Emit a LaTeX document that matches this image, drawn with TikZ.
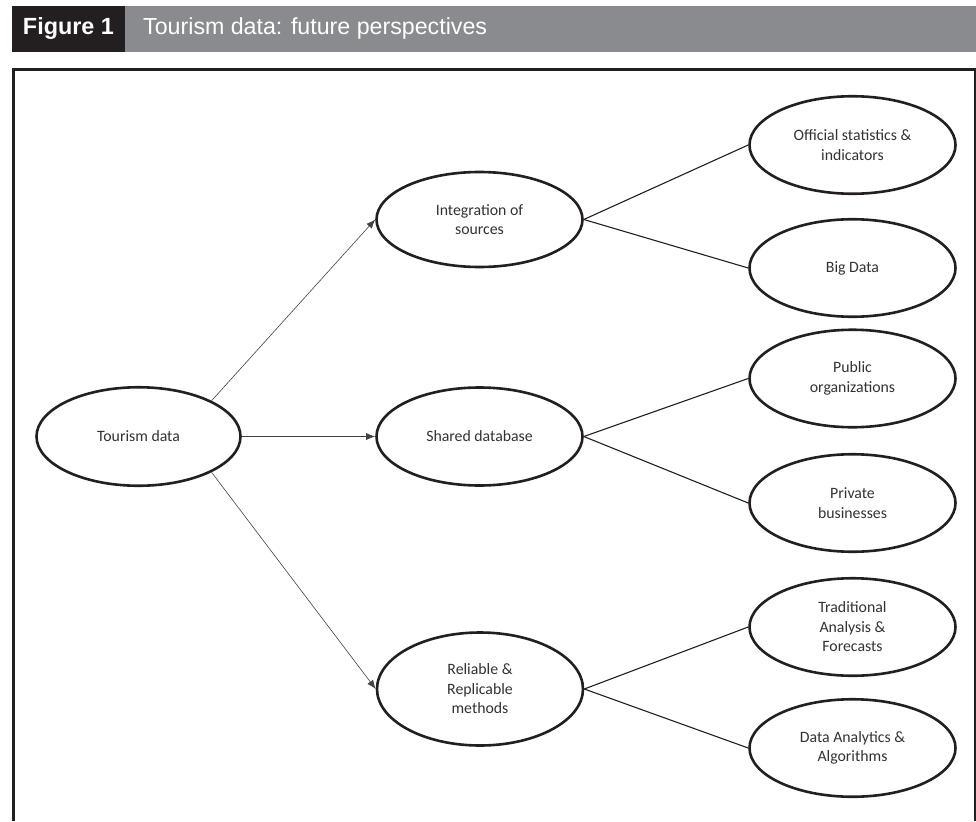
\documentclass[tikz,border=0pt]{standalone}
\usepackage{fontspec}
\setmainfont{Carlito}
\newfontfamily\headfont{Liberation Sans}
\usetikzlibrary{shapes.geometric,arrows.meta}
\definecolor{ink}{HTML}{231F20}
\definecolor{band}{HTML}{8A8B8E}
\begin{document}
\begin{tikzpicture}[x=1pt,y=-1pt,
  bub/.style={ellipse, draw=ink, line width=2.6pt, inner sep=0pt,
    minimum width=206pt, minimum height=98pt, align=center,
    font=\fontsize{15.8pt}{19.5pt}\selectfont, text=ink!92},
  arr/.style={-{Latex[length=9pt,width=7pt]}, line width=0.6pt, draw=ink!85},
  link/.style={line width=1.1pt, draw=ink},
  headtxt/.style={font=\headfont\fontsize{23.2pt}{26pt}\selectfont, text=white, inner sep=0pt}]
\useasboundingbox (0,0) rectangle (976,821);
% header
\fill[ink] (12,6) rectangle (125,52);
\fill[band] (125,6) rectangle (976,52);
\node[headtxt, font=\headfont\bfseries\fontsize{23.4pt}{26pt}\selectfont] (fig) at (68.5,29) {Figure 1};
\node[headtxt, anchor=west] (title) at (143,29) {Tourism data: future perspectives};
% frame
\draw[ink, line width=3.4pt] (13.7,67.6) -- (13.7,821);
\draw[ink, line width=3pt] (12,69.2) -- (976,69.2);
\draw[ink, line width=1.5pt] (974.9,69.2) -- (974.9,821);
% nodes
\node[bub, minimum width=204pt, minimum height=98.5pt] (td) at (138.5,436.5) {Tourism data};
\node[bub, minimum height=95pt] (int) at (479.5,219.5) {Integration of\\sources};
\node[bub] (sh) at (479.5,436.5) {Shared database};
\node[bub, minimum height=113pt] (rel) at (480,689) {Reliable \&\\Replicable\\methods};
\node[bub, minimum height=97.5pt] (off) at (852.5,145) {Official statistics \&\\indicators};
\node[bub, minimum height=97.5pt] (big) at (852.5,268) {Big Data};
\node[bub, minimum height=97.5pt] (pub) at (852.5,378.5) {Public\\organizations};
\node[bub, minimum height=97.5pt] (pri) at (852.5,503) {Private\\businesses};
\node[bub, minimum height=97.5pt] (tra) at (852.5,627) {Traditional\\Analysis \&\\Forecasts};
\node[bub, minimum height=97.5pt] (dat) at (852.5,748) {Data Analytics \&\\Algorithms};
% arrows
\draw[arr] (td.north east) -- (int.west);
\draw[arr] (td.east) -- (sh.west);
\draw[arr] (td.south east) -- (rel.west);
% links
\draw[link] (int.east) -- (off.west);
\draw[link] (int.east) -- (big.west);
\draw[link] (sh.east) -- (pub.west);
\draw[link] (sh.east) -- (pri.west);
\draw[link] (rel.east) -- (tra.west);
\draw[link] (rel.east) -- (dat.west);
\end{tikzpicture}
\end{document}
